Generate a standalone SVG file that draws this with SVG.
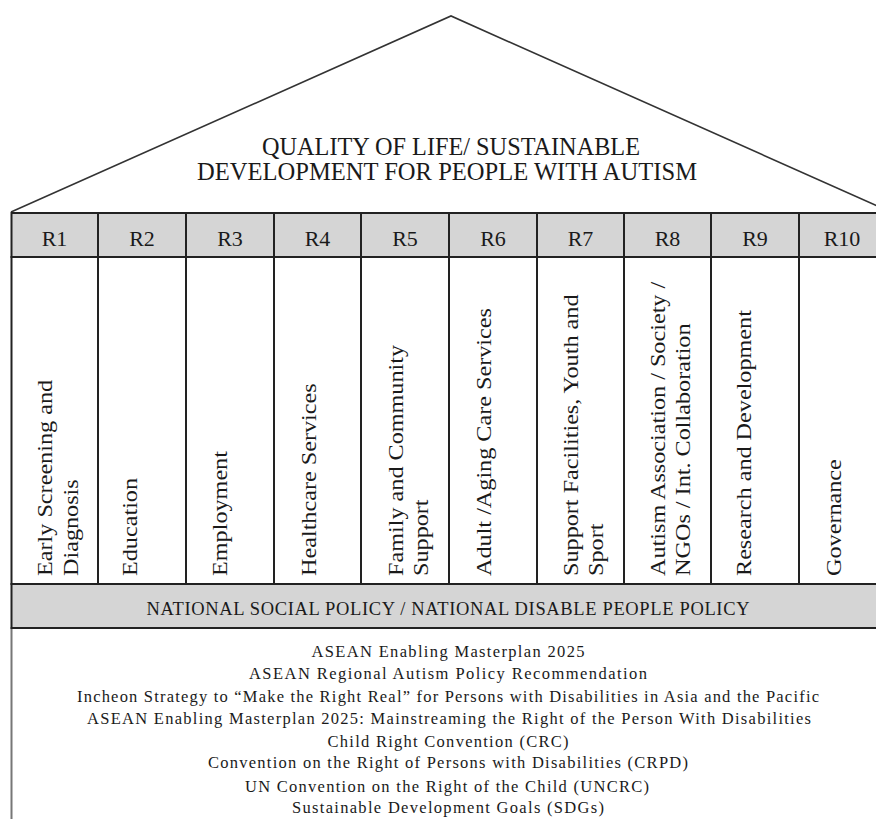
<svg xmlns="http://www.w3.org/2000/svg" width="876" height="819" viewBox="0 0 876 819">
<style>
text{font-family:"Liberation Serif","Times New Roman",serif;fill:#1a1a1a}
.t{font-size:25px;text-anchor:middle}
.h{font-size:22px;text-anchor:middle}
.v{font-size:22px}
.b{font-size:18.5px;text-anchor:middle}
.l{font-size:16.5px;text-anchor:middle}
.cell{fill:#d5d5d5;stroke:#222;stroke-width:2}
.pil{fill:#fff;stroke:#222;stroke-width:2}
</style>
<rect width="876" height="819" fill="#fff"/>
<g id="roof">
<polyline points="11,212 451,16 891,212" fill="none" stroke="#333" stroke-width="1.6"/>
<text class="t" x="451" y="155" textLength="378" lengthAdjust="spacingAndGlyphs">QUALITY OF LIFE/ SUSTAINABLE</text>
<text class="t" x="447" y="180" textLength="500" lengthAdjust="spacingAndGlyphs">DEVELOPMENT FOR PEOPLE WITH AUTISM</text>
</g>
<g id="base">
<rect x="11.5" y="628" width="876" height="210" fill="#fff" stroke="#777" stroke-width="2"/>
<text class="l" x="448" y="657" textLength="273" lengthAdjust="spacing">ASEAN Enabling Masterplan 2025</text>
<text class="l" x="448" y="679" textLength="398" lengthAdjust="spacing">ASEAN Regional Autism Policy Recommendation</text>
<text class="l" x="448" y="702" textLength="742" lengthAdjust="spacing">Incheon Strategy to “Make the Right Real” for Persons with Disabilities in Asia and the Pacific</text>
<text class="l" x="449" y="724" textLength="724" lengthAdjust="spacing">ASEAN Enabling Masterplan 2025: Mainstreaming the Right of the Person With Disabilities</text>
<text class="l" x="448" y="747" textLength="241" lengthAdjust="spacing">Child Right Convention (CRC)</text>
<text class="l" x="448" y="768" textLength="480" lengthAdjust="spacing">Convention on the Right of Persons with Disabilities (CRPD)</text>
<text class="l" x="447" y="792" textLength="404" lengthAdjust="spacing">UN Convention on the Right of the Child (UNCRC)</text>
<text class="l" x="448" y="813" textLength="312" lengthAdjust="spacing">Sustainable Development Goals (SDGs)</text>
</g>
<g id="policy">
<rect class="cell" x="11.5" y="584" width="876" height="44"/>
<text class="b" x="448" y="615" textLength="603" lengthAdjust="spacing">NATIONAL SOCIAL POLICY / NATIONAL DISABLE PEOPLE POLICY</text>
</g>
<g id="R1">
<rect class="cell" x="11.5" y="213" width="86.5" height="44"/>
<rect class="pil" x="11.5" y="257" width="86.5" height="327"/>
<text class="h" x="54.5" y="246">R1</text>
<text class="v" transform="translate(52,576) scale(1,1.1) rotate(-90)">Early Screening and</text>
<text class="v" transform="translate(78,576) scale(1,1.1) rotate(-90)">Diagnosis</text>
</g>
<g id="R2">
<rect class="cell" x="98" y="213" width="88" height="44"/>
<rect class="pil" x="98" y="257" width="88" height="327"/>
<text class="h" x="142" y="246">R2</text>
<text class="v" transform="translate(137,576) scale(1,1.1) rotate(-90)">Education</text>
</g>
<g id="R3">
<rect class="cell" x="186" y="213" width="88" height="44"/>
<rect class="pil" x="186" y="257" width="88" height="327"/>
<text class="h" x="230" y="246">R3</text>
<text class="v" transform="translate(227,576) scale(1,1.1) rotate(-90)">Employment</text>
</g>
<g id="R4">
<rect class="cell" x="274" y="213" width="87" height="44"/>
<rect class="pil" x="274" y="257" width="87" height="327"/>
<text class="h" x="317.5" y="246">R4</text>
<text class="v" transform="translate(316,576) scale(1,1.1) rotate(-90)">Healthcare Services</text>
</g>
<g id="R5">
<rect class="cell" x="361" y="213" width="88" height="44"/>
<rect class="pil" x="361" y="257" width="88" height="327"/>
<text class="h" x="405" y="246">R5</text>
<text class="v" transform="translate(403,576) scale(1,1.1) rotate(-90)">Family and Community</text>
<text class="v" transform="translate(428,576) scale(1,1.1) rotate(-90)">Support</text>
</g>
<g id="R6">
<rect class="cell" x="449" y="213" width="88" height="44"/>
<rect class="pil" x="449" y="257" width="88" height="327"/>
<text class="h" x="493" y="246">R6</text>
<text class="v" transform="translate(491,576) scale(1,1.1) rotate(-90)">Adult /Aging Care Services</text>
</g>
<g id="R7">
<rect class="cell" x="537" y="213" width="87" height="44"/>
<rect class="pil" x="537" y="257" width="87" height="327"/>
<text class="h" x="580.5" y="246">R7</text>
<text class="v" transform="translate(578,576) scale(1,1.1) rotate(-90)">Support Facilities, Youth and</text>
<text class="v" transform="translate(603,576) scale(1,1.1) rotate(-90)">Sport</text>
</g>
<g id="R8">
<rect class="cell" x="624" y="213" width="87" height="44"/>
<rect class="pil" x="624" y="257" width="87" height="327"/>
<text class="h" x="667.5" y="246">R8</text>
<text class="v" transform="translate(665,576) scale(1,1.1) rotate(-90)">Autism Association / Society /</text>
<text class="v" transform="translate(690,576) scale(1,1.1) rotate(-90)">NGOs / Int. Collaboration</text>
</g>
<g id="R9">
<rect class="cell" x="711" y="213" width="88" height="44"/>
<rect class="pil" x="711" y="257" width="88" height="327"/>
<text class="h" x="755" y="246">R9</text>
<text class="v" transform="translate(751,576) scale(1,1.1) rotate(-90)">Research and Development</text>
</g>
<g id="R10">
<rect class="cell" x="799" y="213" width="88" height="44"/>
<rect class="pil" x="799" y="257" width="88" height="327"/>
<text class="h" x="842" y="246">R10</text>
<text class="v" transform="translate(841,576) scale(1,1.1) rotate(-90)">Governance</text>
</g>
<g id="connectors"/>
</svg>
